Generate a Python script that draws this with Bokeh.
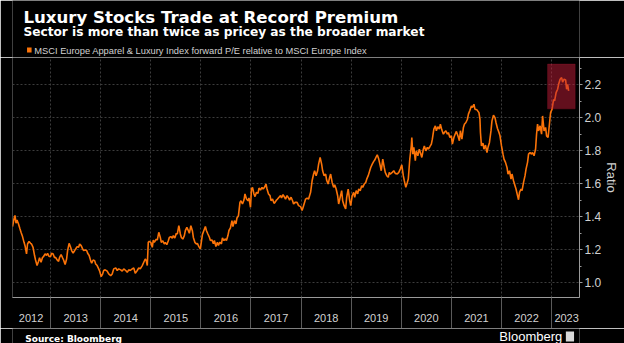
from bokeh.plotting import figure
from bokeh.layouts import column
from bokeh.models import (ColumnDataSource, Range1d, FixedTicker, Label, BoxAnnotation)
from bokeh.embed import file_html
from bokeh.resources import INLINE

# ---------------- data ----------------
dates = [
    2012.24, 2012.27, 2012.29, 2012.31, 2012.33, 2012.36, 2012.39, 2012.41, 2012.44, 2012.47,
    2012.49, 2012.52, 2012.54, 2012.57, 2012.60, 2012.62, 2012.65, 2012.68, 2012.70, 2012.73,
    2012.76, 2012.78, 2012.81, 2012.84, 2012.86, 2012.89, 2012.92, 2012.94, 2012.97, 2013.00,
    2013.02, 2013.05, 2013.08, 2013.10, 2013.13, 2013.16, 2013.18, 2013.21, 2013.24, 2013.26,
    2013.29, 2013.32, 2013.34, 2013.37, 2013.40, 2013.42, 2013.45, 2013.48, 2013.50, 2013.53,
    2013.56, 2013.58, 2013.61, 2013.64, 2013.66, 2013.69, 2013.72, 2013.74, 2013.77, 2013.80,
    2013.82, 2013.85, 2013.88, 2013.90, 2013.93, 2013.96, 2013.98, 2014.01, 2014.04, 2014.06,
    2014.09, 2014.13, 2014.16, 2014.20, 2014.23, 2014.26, 2014.30, 2014.33, 2014.36, 2014.40,
    2014.43, 2014.46, 2014.50, 2014.53, 2014.56, 2014.59, 2014.63, 2014.66, 2014.69, 2014.73,
    2014.76, 2014.79, 2014.83, 2014.86, 2014.89, 2014.91, 2014.93, 2014.95, 2014.97, 2015.00,
    2015.03, 2015.05, 2015.07, 2015.11, 2015.13, 2015.16, 2015.19, 2015.21, 2015.24, 2015.27,
    2015.29, 2015.32, 2015.35, 2015.37, 2015.40, 2015.43, 2015.45, 2015.48, 2015.51, 2015.53,
    2015.56, 2015.59, 2015.61, 2015.64, 2015.67, 2015.69, 2015.72, 2015.75, 2015.77, 2015.80,
    2015.83, 2015.85, 2015.88, 2015.91, 2015.93, 2015.96, 2015.99, 2016.03, 2016.06, 2016.09,
    2016.11, 2016.14, 2016.17, 2016.19, 2016.22, 2016.25, 2016.27, 2016.30, 2016.33, 2016.35,
    2016.38, 2016.41, 2016.43, 2016.46, 2016.49, 2016.51, 2016.54, 2016.56, 2016.59, 2016.62,
    2016.64, 2016.67, 2016.70, 2016.72, 2016.75, 2016.78, 2016.80, 2016.83, 2016.86, 2016.88,
    2016.91, 2016.94, 2016.96, 2016.99, 2017.01, 2017.03, 2017.06, 2017.08, 2017.11, 2017.14,
    2017.16, 2017.19, 2017.22, 2017.24, 2017.27, 2017.30, 2017.32, 2017.35, 2017.38, 2017.40,
    2017.43, 2017.46, 2017.48, 2017.51, 2017.53, 2017.56, 2017.59, 2017.61, 2017.64, 2017.67,
    2017.69, 2017.72, 2017.75, 2017.77, 2017.80, 2017.83, 2017.85, 2017.88, 2017.92, 2017.95,
    2017.99, 2018.02, 2018.05, 2018.09, 2018.12, 2018.15, 2018.19, 2018.22, 2018.25, 2018.27,
    2018.30, 2018.33, 2018.35, 2018.38, 2018.41, 2018.43, 2018.46, 2018.49, 2018.51, 2018.54,
    2018.57, 2018.59, 2018.62, 2018.65, 2018.67, 2018.70, 2018.73, 2018.75, 2018.78, 2018.81,
    2018.83, 2018.86, 2018.89, 2018.91, 2018.94, 2018.97, 2018.99, 2019.02, 2019.05, 2019.07,
    2019.10, 2019.13, 2019.15, 2019.18, 2019.21, 2019.23, 2019.26, 2019.29, 2019.31, 2019.34,
    2019.37, 2019.39, 2019.42, 2019.45, 2019.47, 2019.50, 2019.52, 2019.55, 2019.58, 2019.60,
    2019.63, 2019.66, 2019.68, 2019.71, 2019.74, 2019.76, 2019.78, 2019.82, 2019.85, 2019.88,
    2019.92, 2019.95, 2019.98, 2020.01, 2020.04, 2020.06, 2020.09, 2020.12, 2020.14, 2020.17,
    2020.20, 2020.21, 2020.23, 2020.25, 2020.28, 2020.30, 2020.33, 2020.36, 2020.38, 2020.41,
    2020.44, 2020.46, 2020.49, 2020.52, 2020.54, 2020.57, 2020.60, 2020.62, 2020.65, 2020.68,
    2020.70, 2020.73, 2020.76, 2020.78, 2020.81, 2020.84, 2020.86, 2020.89, 2020.92, 2020.94,
    2020.97, 2021.00, 2021.02, 2021.05, 2021.08, 2021.10, 2021.13, 2021.16, 2021.18, 2021.21,
    2021.24, 2021.26, 2021.29, 2021.32, 2021.34, 2021.37, 2021.40, 2021.42, 2021.45, 2021.47,
    2021.51, 2021.55, 2021.57, 2021.58, 2021.60, 2021.63, 2021.65, 2021.68, 2021.71, 2021.73,
    2021.76, 2021.79, 2021.81, 2021.84, 2021.87, 2021.89, 2021.92, 2021.95, 2021.97, 2022.00,
    2022.03, 2022.05, 2022.08, 2022.11, 2022.13, 2022.16, 2022.19, 2022.21, 2022.24, 2022.27,
    2022.29, 2022.32, 2022.34, 2022.36, 2022.39, 2022.41, 2022.44, 2022.47, 2022.49, 2022.52,
    2022.54, 2022.57, 2022.60, 2022.62, 2022.65, 2022.68, 2022.70, 2022.72, 2022.74, 2022.77,
    2022.80, 2022.82, 2022.85, 2022.88, 2022.90, 2022.93, 2022.96, 2022.98, 2023.01, 2023.04,
    2023.06, 2023.09, 2023.12, 2023.14, 2023.17, 2023.20, 2023.22, 2023.25, 2023.28, 2023.30,
    2023.32, 2023.34,
]

ratio = [
    1.339, 1.386, 1.408, 1.360, 1.380, 1.356, 1.325, 1.305, 1.279, 1.244,
    1.224, 1.174, 1.234, 1.250, 1.238, 1.234, 1.214, 1.164, 1.137, 1.103,
    1.129, 1.150, 1.123, 1.153, 1.158, 1.174, 1.164, 1.178, 1.158, 1.158,
    1.178, 1.174, 1.150, 1.153, 1.137, 1.129, 1.153, 1.170, 1.150, 1.137,
    1.109, 1.143, 1.194, 1.238, 1.214, 1.194, 1.178, 1.194, 1.204, 1.218,
    1.214, 1.234, 1.224, 1.204, 1.194, 1.198, 1.194, 1.178, 1.164, 1.133,
    1.117, 1.137, 1.133, 1.113, 1.103, 1.083, 1.069, 1.036, 1.053, 1.073,
    1.077, 1.069, 1.052, 1.042, 1.052, 1.083, 1.089, 1.073, 1.083, 1.077,
    1.069, 1.083, 1.073, 1.062, 1.077, 1.073, 1.083, 1.089, 1.056, 1.073,
    1.089, 1.083, 1.103, 1.123, 1.143, 1.133, 1.103, 1.244, 1.250, 1.244,
    1.214, 1.258, 1.244, 1.264, 1.258, 1.305, 1.274, 1.244, 1.254, 1.234,
    1.244, 1.230, 1.254, 1.274, 1.279, 1.270, 1.285, 1.270, 1.299, 1.295,
    1.345, 1.295, 1.274, 1.264, 1.285, 1.315, 1.335, 1.315, 1.299, 1.345,
    1.315, 1.274, 1.244, 1.234, 1.238, 1.218, 1.204, 1.291, 1.316, 1.340,
    1.316, 1.295, 1.275, 1.255, 1.259, 1.235, 1.255, 1.219, 1.245, 1.225,
    1.245, 1.235, 1.271, 1.255, 1.265, 1.255, 1.285, 1.316, 1.332, 1.376,
    1.340, 1.376, 1.356, 1.392, 1.406, 1.487, 1.497, 1.477, 1.501, 1.538,
    1.507, 1.497, 1.514, 1.457, 1.568, 1.578, 1.538, 1.522, 1.548, 1.542,
    1.574, 1.562, 1.578, 1.568, 1.578, 1.598, 1.568, 1.538, 1.528, 1.497,
    1.507, 1.481, 1.487, 1.501, 1.507, 1.518, 1.528, 1.514, 1.534, 1.518,
    1.507, 1.528, 1.514, 1.501, 1.518, 1.497, 1.477, 1.487, 1.487, 1.467,
    1.461, 1.437, 1.467, 1.507, 1.513, 1.507, 1.548, 1.618, 1.659, 1.679,
    1.649, 1.679, 1.719, 1.760, 1.719, 1.679, 1.649, 1.659, 1.622, 1.598,
    1.639, 1.659, 1.608, 1.578, 1.594, 1.568, 1.527, 1.477, 1.517, 1.558,
    1.497, 1.467, 1.447, 1.517, 1.568, 1.497, 1.467, 1.527, 1.548, 1.517,
    1.558, 1.538, 1.568, 1.558, 1.588, 1.578, 1.598, 1.608, 1.628, 1.649,
    1.679, 1.699, 1.719, 1.736, 1.744, 1.764, 1.776, 1.750, 1.709, 1.679,
    1.750, 1.699, 1.669, 1.649, 1.639, 1.669, 1.659, 1.669, 1.679, 1.663,
    1.659, 1.669, 1.689, 1.715, 1.649, 1.619, 1.578, 1.608, 1.629, 1.750,
    1.831, 1.881, 1.780, 1.821, 1.740, 1.800, 1.770, 1.810, 1.790, 1.760,
    1.810, 1.830, 1.800, 1.821, 1.810, 1.825, 1.841, 1.871, 1.932, 1.952,
    1.922, 1.946, 1.932, 1.962, 1.926, 1.901, 1.911, 1.922, 1.901, 1.911,
    1.881, 1.891, 1.841, 1.881, 1.905, 1.918, 1.891, 1.861, 1.922, 1.871,
    1.942, 1.962, 1.972, 1.992, 2.023, 2.047, 2.073, 2.063, 2.083, 2.053,
    2.049, 2.032, 1.992, 1.911, 1.830, 1.847, 1.810, 1.835, 1.790, 1.820,
    1.851, 1.921, 1.982, 2.016, 2.002, 1.972, 1.936, 1.911, 1.891, 1.830,
    1.780, 1.750, 1.730, 1.699, 1.659, 1.679, 1.629, 1.659, 1.618, 1.588,
    1.568, 1.528, 1.503, 1.548, 1.568, 1.558, 1.608, 1.649, 1.689, 1.730,
    1.780, 1.790, 1.780, 1.790, 1.770, 1.810, 1.901, 1.962, 1.921, 1.952,
    1.901, 2.012, 1.921, 1.942, 1.891, 1.881, 1.972, 2.032, 2.053, 2.113,
    2.103, 2.154, 2.174, 2.204, 2.235, 2.245, 2.218, 2.235, 2.231, 2.174,
    2.204, 2.164,
]

year_bounds = [2013, 2014, 2015, 2016, 2017, 2018, 2019, 2020, 2021, 2022, 2023]
year_label_pos = [2012.61, 2013.5, 2014.5, 2015.5, 2016.5, 2017.5, 2018.5,
                  2019.5, 2020.5, 2021.5, 2022.5, 2023.3]
year_labels = ["2012", "2013", "2014", "2015", "2016", "2017", "2018",
               "2019", "2020", "2021", "2022", "2023"]

y_ticks = [1.0, 1.2, 1.4, 1.6, 1.8, 2.0, 2.2]
y_tick_labels = ["1.0", "1.2", "1.4", "1.6", "1.8", "2.0", "2.2"]
y_minor = [0.9, 1.1, 1.3, 1.5, 1.7, 1.9, 2.1, 2.3]

highlight_x = [2022.92, 2023.47]
highlight_y = [2.055, 2.327]

title = "Luxury Stocks Trade at Record Premium"
subtitle = "Sector is more than twice as pricey as the broader market"
legend_text = "MSCI Europe Apparel & Luxury Index forward P/E relative to MSCI Europe Index"
source_text = "Source: Bloomberg"
brand_text = "Bloomberg"

# ---------------- styling ----------------
W = 624
HEAD_H, MAIN_H, FOOT_H = 57, 271, 15
BG = "#000000"
ORANGE = "#fb7308"
GRID = "#3c3c3c"
TXT = "#d2d2d2"


def blank(h):
    f = figure(width=W, height=h, output_backend="svg", toolbar_location=None,
               x_range=Range1d(0, W), y_range=Range1d(h, 0),
               x_axis_location=None, y_axis_location=None,
               background_fill_color=BG, border_fill_color=BG,
               outline_line_color=None, min_border=0)
    f.grid.visible = False
    return f


# ---------------- header: title, subtitle, legend ----------------
head = blank(HEAD_H)
head.add_layout(Label(x=12, y=17, text=title, text_color="#ffffff",
                      text_font="DejaVu Sans", text_font_style="bold",
                      text_font_size="16.6px", text_baseline="alphabetic"))
head.add_layout(Label(x=12, y=31.5, text=subtitle, text_color="#ffffff",
                      text_font="DejaVu Sans", text_font_style="bold",
                      text_font_size="12.2px", text_baseline="alphabetic"))
# legend key (swatch + label)
head.add_layout(BoxAnnotation(left=16, right=21, top=47, bottom=52,
                              fill_color=ORANGE, fill_alpha=1, line_color=None))
head.add_layout(Label(x=24, y=50, text=legend_text, text_color=TXT,
                      text_font="Liberation Sans", text_font_size="9.3px",
                      text_baseline="middle"))

# ---------------- main chart ----------------
x_lo, x_hi = 2012.24, 2023.557
y_lo, y_hi = 0.909, 2.367

p = figure(width=W, height=MAIN_H, output_backend="svg", toolbar_location=None,
           x_range=Range1d(x_lo, x_hi), y_range=Range1d(y_lo, y_hi),
           y_axis_location="right",
           background_fill_color=BG, border_fill_color=BG,
           outline_line_color=None,
           min_border_left=12, min_border_right=45,
           min_border_top=0, min_border_bottom=31)

src = ColumnDataSource(dict(date=dates, ratio=ratio))
p.line(x="date", y="ratio", source=src, line_color=ORANGE, line_width=1.6)

xa = p.xaxis[0]
xa.ticker = FixedTicker(ticks=year_label_pos, minor_ticks=year_bounds)
xa.major_label_overrides = {pos: lab for pos, lab in zip(year_label_pos, year_labels)}
xa.major_tick_line_color = None
xa.major_tick_out = 0
xa.major_tick_in = 0
xa.minor_tick_in = 0
xa.minor_tick_out = 31
xa.minor_tick_line_color = "#5a5a5a"
xa.axis_line_color = "#9a9a9a"
xa.major_label_text_color = TXT
xa.major_label_text_font = "Liberation Sans"
xa.major_label_text_font_size = "11px"
xa.major_label_standoff = -15

ya = p.yaxis[0]
ya.ticker = FixedTicker(ticks=y_ticks, minor_ticks=y_minor)
ya.major_label_overrides = {t: lab for t, lab in zip(y_ticks, y_tick_labels)}
ya.axis_line_color = "#9a9a9a"
ya.major_tick_line_color = "#9a9a9a"
ya.minor_tick_line_color = "#9a9a9a"
ya.major_tick_out = 3
ya.major_tick_in = 0
ya.minor_tick_out = 2
ya.minor_tick_in = 0
ya.major_label_standoff = 2
ya.major_label_text_color = TXT
ya.major_label_text_font = "Liberation Sans"
ya.major_label_text_font_size = "12px"
ya.axis_label = "Ratio"
ya.axis_label_text_color = TXT
ya.axis_label_text_font = "Liberation Sans"
ya.axis_label_text_font_size = "13px"
ya.axis_label_text_font_style = "normal"
ya.axis_label_standoff = 0

p.xgrid.ticker = FixedTicker(ticks=year_bounds)
p.ygrid.ticker = FixedTicker(ticks=y_ticks)
for g in (p.xgrid[0], p.ygrid[0]):
    g.grid_line_color = GRID
    g.grid_line_dash = "2 2"
    g.grid_line_width = 1

p.add_layout(BoxAnnotation(left=highlight_x[0], right=highlight_x[1],
                           bottom=highlight_y[0], top=highlight_y[1],
                           fill_color="#c41e3a", fill_alpha=0.5,
                           line_color="#a3172e", line_width=1))

# ---------------- footer ----------------
foot = blank(FOOT_H)
foot.add_layout(Label(x=14, y=10, text=source_text, text_color="#ffffff",
                      text_font="DejaVu Sans", text_font_style="bold",
                      text_font_size="9px", text_baseline="middle"))
foot.add_layout(Label(x=605, y=8, text=brand_text, text_color="#ffffff",
                      text_font="Liberation Sans", text_font_size="13px",
                      text_align="right", text_baseline="middle"))
# brand mark
foot.add_layout(BoxAnnotation(left=609, right=618, top=3, bottom=13,
                              fill_color="#d8d8d8", fill_alpha=1, line_color=None))

layout = column(head, p, foot, spacing=0)
open("out.html", "w").write(file_html(layout, INLINE))
